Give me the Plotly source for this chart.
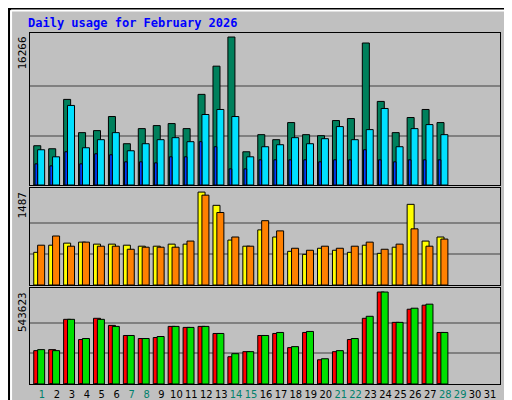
import plotly.graph_objects as go

days = list(range(1, 32))
nd = 28
hits = [4317,3985,9410,5756,5978,7528,4539,6199,6531,6753,6199,9963,13063,16266,3653,5535,4982,6863,5535,5424,7085,7306,15609,9188,5756,7417,8303,6863]
files = [3875,3100,8745,4096,4982,5756,3764,4539,4982,5203,4760,7749,8303,7528,3100,4207,4428,5203,4539,5092,6421,4982,6089,8413,4207,6199,6642,5535]
pages = [2325,2103,3653,2325,3432,3321,2546,2546,2435,3100,3100,4760,4207,1771,1771,2767,2767,2767,2767,2546,2767,2767,3875,2767,2546,2767,2767,2767]
visits = [523,637,670,686,654,654,637,621,621,654,654,1487,1275,719,621,882,768,539,490,588,556,523,637,507,605,1291,703,768]
sites = [637,784,621,686,621,621,572,605,605,605,703,1438,1160,768,621,1029,866,588,556,621,588,621,686,572,654,899,621,735]
kb_f = [197142,203116,382336,262856,388310,346492,286752,268830,274804,340518,334544,340518,298700,161298,191168,286752,298700,215064,304674,143376,191168,262856,388310,543623,364414,442076,465972,304674]
kb_in = [1500]*28
kb_out = [203116,197142,382336,268830,382336,340518,286752,268830,280778,340518,334544,340518,298700,179220,191168,286752,304674,221038,310648,149350,197142,268830,400258,543623,364414,448050,471946,304674]
weekend = {1, 7, 8, 14, 15, 21, 22, 28, 29}

x = days[:nd]
fig = go.Figure()
ln = dict(color="black", width=1)

def bar(y, color, off, w, ax):
    fig.add_trace(go.Bar(x=x, y=y, marker=dict(color=color, line=ln), offset=off, width=w,
                         xaxis="x" + ax, yaxis="y" + ax, showlegend=False, hoverinfo="skip"))

bar(hits, "#00805c", -0.55, 0.47, "")
bar(files, "#00e0ff", -0.29, 0.47, "")
bar(pages, "#0040ff", -0.47, 0.18, "")
bar(visits, "#ffff00", -0.55, 0.47, "2")
bar(sites, "#ff8000", -0.29, 0.47, "2")
bar(kb_f, "#ff0000", -0.55, 0.47, "3")
bar(kb_out, "#00e000", -0.29, 0.47, "3")
bar(kb_in, "#0080ff", -0.47, 0.18, "3")

xr = [0.2, 31.67]
xcommon = dict(range=xr, showgrid=False, zeroline=False, showline=True, linecolor="black", mirror=True,
               domain=[0.043, 0.961], automargin=False)
ycommon = dict(showticklabels=False, gridcolor="#808080", gridwidth=1.5, zeroline=False,
               showline=True, linecolor="black", mirror=True, ticks="", automargin=False)
fig.update_layout(
    width=512, height=400, margin=dict(l=0, r=0, t=0, b=0, autoexpand=False),
    paper_bgcolor="#c0c0c0", plot_bgcolor="#c0c0c0", barmode="overlay",
    font=dict(family="DejaVu Sans Mono", size=11, color="black"),
    xaxis=dict(**xcommon, anchor="y", showticklabels=False, ticks=""),
    xaxis2=dict(**xcommon, anchor="y2", showticklabels=False, ticks=""),
    xaxis3=dict(**xcommon, anchor="y3", ticks="", tickvals=days,
                ticktext=[f'<span style="color:{"#00806c" if d in weekend else "black"}">{d}</span>' for d in days],
                tickfont=dict(family="DejaVu Sans Condensed", size=11)),
    yaxis=dict(**ycommon, domain=[0.5575, 0.9375], range=[0, 16266 * 151 / 147], tickvals=[5422, 10844], anchor="x"),
    yaxis2=dict(**ycommon, domain=[0.3075, 0.55], range=[0, 1487 * 95 / 91], tickvals=[496, 991], anchor="x2"),
    yaxis3=dict(**ycommon, domain=[0.06, 0.30], range=[0, 543623 * 95 / 91], tickvals=[181208, 362415], anchor="x3"),
)

shapes = [
    dict(type="rect", xref="paper", yref="paper", x0=0.002, y0=0.0025, x1=0.998, y1=0.9975,
         line=dict(color="black", width=2)),
    dict(type="line", xref="paper", yref="paper", x0=0.006, y0=0.994, x1=0.994, y1=0.994,
         line=dict(color="white", width=2)),
    dict(type="line", xref="paper", yref="paper", x0=0.006, y0=0.994, x1=0.006, y1=0.006,
         line=dict(color="white", width=2)),
    dict(type="line", xref="paper", yref="paper", x0=0.006, y0=0.006, x1=0.994, y1=0.006,
         line=dict(color="#808080", width=2)),
    dict(type="line", xref="paper", yref="paper", x0=0.994, y0=0.006, x1=0.994, y1=0.994,
         line=dict(color="#808080", width=2)),
]
fig.update_layout(shapes=shapes)

def mono(t, c):
    return f'<span style="color:{c}">{t}</span>'

P = dict(xref="paper", yref="paper", showarrow=False)
ann = [
    dict(**P, x=18 / 512, y=1 - 15 / 400, text="<b>Daily usage for February 2026</b>",
         xanchor="left", yanchor="middle", font=dict(color="#0000ff", size=12, family="DejaVu Sans Mono")),
    dict(**P, x=14 / 512, y=1 - 27 / 400, text="16266", textangle=-90, xanchor="center", yanchor="top"),
    dict(**P, x=14 / 512, y=1 - 182 / 400, text="1487", textangle=-90, xanchor="center", yanchor="top"),
    dict(**P, x=14 / 512, y=1 - 282 / 400, text="543623", textangle=-90, xanchor="center", yanchor="top"),
    dict(**P, x=501 / 512, y=1 - 27 / 400, textangle=-90, xanchor="center", yanchor="top",
         text=mono("Pages", "#00c8ff") + " / " + mono("Files", "#0080ff") + " / " + mono("Hits", "#00806c")),
    dict(**P, x=501 / 512, y=1 - 372 / 400, textangle=-90, xanchor="center", yanchor="bottom",
         text=mono("kB F", "#ff0000") + " / " + mono("kB In", "#0080ff") + " / " + mono("kB Out", "#00c000")
         + " / " + mono("Sites", "#ff8000") + " / " + mono("Visits", "#e0e000")),
]
fig.update_layout(annotations=ann)
fig.write_html("out.html")
